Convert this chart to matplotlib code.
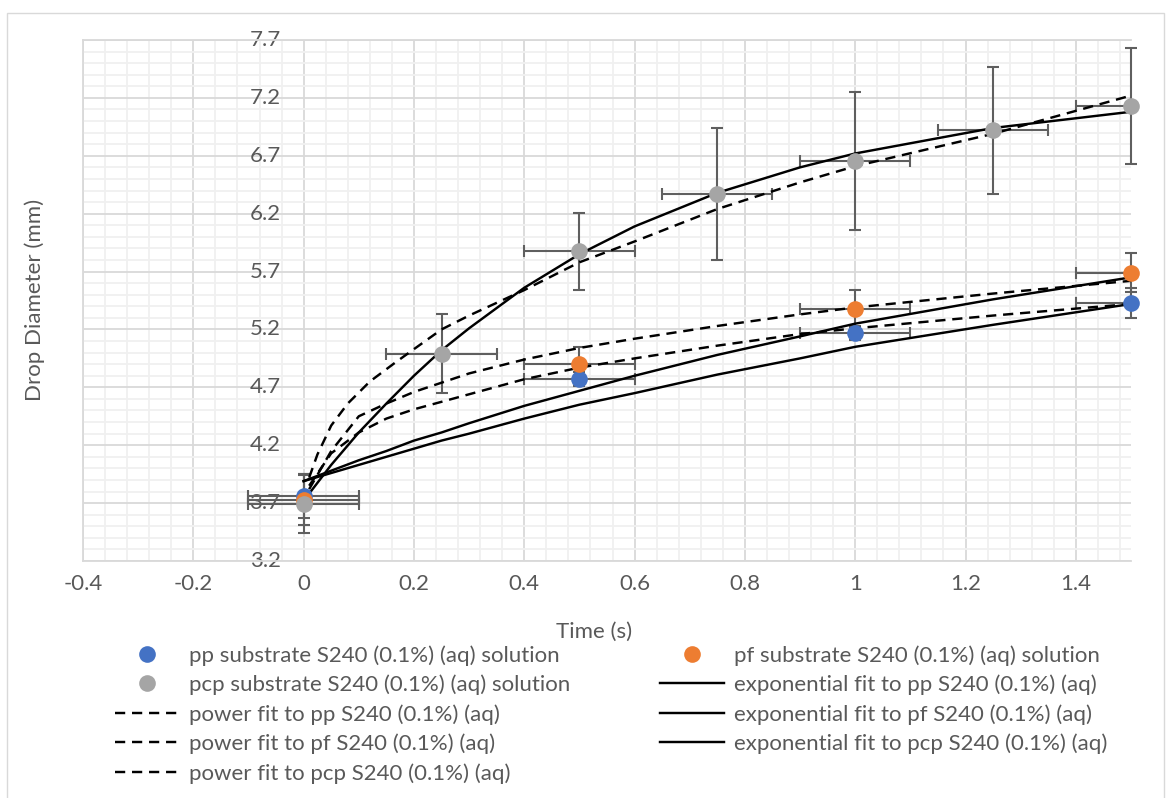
import matplotlib
matplotlib.use("Agg")
import matplotlib.pyplot as plt
from matplotlib.lines import Line2D
from matplotlib.patches import Rectangle
from matplotlib.ticker import FixedLocator, MultipleLocator

plt.rcParams['font.family'] = ['Lato', 'DejaVu Sans']

# ---- measured drop diameters (mm) ----
time_pp = [0.0, 0.5, 1.0, 1.5]
diam_pp = [3.76, 4.77, 5.17, 5.43]
yerr_pp = [0.19, 0.06, 0.06, 0.13]

time_pf = [0.0, 0.5, 1.0, 1.5]
diam_pf = [3.73, 4.90, 5.38, 5.69]
yerr_pf = [0.22, 0.15, 0.16, 0.17]

time_pcp = [0.0, 0.25, 0.5, 0.75, 1.0, 1.25, 1.5]
diam_pcp = [3.69, 4.99, 5.875, 6.37, 6.655, 6.92, 7.13]
yerr_pcp = [0.25, 0.34, 0.33, 0.57, 0.60, 0.55, 0.50]

time_err = 0.1  # timing uncertainty (s)

# ---- fitted curves ----
exp_t = [0.0, 0.05, 0.1, 0.15, 0.2, 0.25, 0.3, 0.4, 0.5, 0.6, 0.75, 0.9, 1.0, 1.25, 1.5]
exp_pp = [3.89, 3.96, 4.03, 4.10, 4.17, 4.24, 4.30, 4.43, 4.55, 4.65, 4.81, 4.95, 5.05, 5.24, 5.42]
exp_pf = [3.89, 3.98, 4.07, 4.15, 4.24, 4.31, 4.39, 4.54, 4.67, 4.80, 4.98, 5.14, 5.25, 5.46, 5.65]
exp_pcp = [3.72, 4.03, 4.31, 4.56, 4.80, 5.02, 5.21, 5.56, 5.85, 6.09, 6.38, 6.60, 6.72, 6.94, 7.08]

pow_t = [0.01, 0.05, 0.1, 0.15, 0.2, 0.3, 0.4, 0.5, 0.6, 0.75, 0.9, 1.0, 1.25, 1.5]
pow_pp = [3.85, 4.13, 4.31, 4.43, 4.51, 4.64, 4.77, 4.87, 4.95, 5.06, 5.16, 5.21, 5.32, 5.42]
pow_pf = [3.82, 4.15, 4.45, 4.56, 4.66, 4.82, 4.94, 5.04, 5.12, 5.23, 5.33, 5.39, 5.51, 5.62]

pow_pcp_t = [0.01, 0.025, 0.05, 0.08, 0.12, 0.165, 0.2, 0.25, 0.3, 0.4, 0.5, 0.6,
             0.75, 0.9, 1.0, 1.25, 1.5]
pow_pcp = [3.92, 4.12, 4.37, 4.56, 4.75, 4.91, 5.03, 5.20, 5.32, 5.54, 5.78, 5.96,
           6.24, 6.47, 6.61, 6.89, 7.22]

# ---- axis ticks ----
x_ticks = [-0.4, -0.2, 0.0, 0.2, 0.4, 0.6, 0.8, 1.0, 1.2, 1.4]
x_tick_labels = ['-0.4', '-0.2', '0', '0.2', '0.4', '0.6', '0.8', '1', '1.2', '1.4']
y_ticks = [3.2, 3.7, 4.2, 4.7, 5.2, 5.7, 6.2, 6.7, 7.2, 7.7]
y_tick_labels = ['3.2', '3.7', '4.2', '4.7', '5.2', '5.7', '6.2', '6.7', '7.2', '7.7']

labels_data = ['pp substrate S240 (0.1%) (aq) solution',
               'pf substrate S240 (0.1%) (aq) solution',
               'pcp substrate S240 (0.1%) (aq) solution']
labels_exp = ['exponential fit to pp S240 (0.1%) (aq)',
              'exponential fit to pf S240 (0.1%) (aq)',
              'exponential fit to pcp S240 (0.1%) (aq)']
labels_pow = ['power fit to pp S240 (0.1%) (aq)',
              'power fit to pf S240 (0.1%) (aq)',
              'power fit to pcp S240 (0.1%) (aq)']

# ---- style ----
TEXT = '#595959'
ERR = '#5f5f5f'
C_PP, C_PF, C_PCP = '#4472C4', '#ED7D31', '#A5A5A5'
FS = 16
DASH = (0, (4.2, 2.8))
LW_FIT = 1.75
MS = 12

W, H = 1171, 798
fig = plt.figure(figsize=(W / 100, H / 100), dpi=100)
fig.patch.set_facecolor('white')

# chart frame
fig.patches.append(Rectangle((7 / W, -0.01), (1164 - 7) / W, 1 - 13 / H + 0.01,
                             transform=fig.transFigure, fill=False,
                             edgecolor='#D9D9D9', linewidth=1.0))

ax = fig.add_axes([83 / W, 1 - 561 / H, (1131 - 83) / W, (561 - 40) / H])
ax.set_xlim(-0.4, 1.5)
ax.set_ylim(3.2, 7.7)

ax.xaxis.set_major_locator(FixedLocator(x_ticks))
ax.xaxis.set_minor_locator(MultipleLocator(0.04))
ax.yaxis.set_major_locator(FixedLocator(y_ticks))
ax.yaxis.set_minor_locator(MultipleLocator(0.1))
ax.set_xticklabels(x_tick_labels)
ax.set_yticklabels([])
ax.tick_params(which='both', length=0)
ax.tick_params(axis='x', pad=9, labelsize=FS, labelcolor=TEXT)
ax.grid(which='minor', color='#F0F0F0', linewidth=1.3)
ax.grid(which='major', color='#D9D9D9', linewidth=1.3)
ax.set_axisbelow(True)
for side in ('top', 'left', 'bottom'):
    ax.spines[side].set_color('#D9D9D9')
    ax.spines[side].set_linewidth(1.3)
ax.spines['right'].set_visible(False)

# value labels sit beside the vertical axis at x = 0
for v, lab in zip(y_ticks, y_tick_labels):
    ax.annotate(lab, xy=(0, v), xycoords='data', xytext=(-23, 0),
                textcoords='offset pixels', ha='right', va='center',
                fontsize=FS, color=TEXT, annotation_clip=False, zorder=1)


def error_bars(t, d, yerr):
    ye = ax.errorbar(t, d, yerr=yerr, fmt='none', ecolor=ERR, elinewidth=1.5,
                     capsize=4.5, capthick=1.5, zorder=2)
    for art in list(ye.lines[1]) + list(ye.lines[2]):
        art.set_clip_on(False)
    ax.errorbar(t, d, xerr=time_err, fmt='none', ecolor=ERR, elinewidth=1.5,
                capsize=4.5, capthick=1.5, zorder=2)


error_bars(time_pp, diam_pp, yerr_pp)
error_bars(time_pf, diam_pf, yerr_pf)
error_bars(time_pcp, diam_pcp, yerr_pcp)

# fitted curves
for t, y in ((exp_t, exp_pp), (exp_t, exp_pf), (exp_t, exp_pcp)):
    ax.plot(t, y, color='black', linewidth=LW_FIT, zorder=3)
for t, y in ((pow_t, pow_pp), (pow_t, pow_pf), (pow_pcp_t, pow_pcp)):
    ax.plot(t, y, color='black', linewidth=LW_FIT, linestyle=DASH, zorder=3)

# measured points
for t, d, c in ((time_pp, diam_pp, C_PP), (time_pf, diam_pf, C_PF),
                (time_pcp, diam_pcp, C_PCP)):
    ax.plot(t, d, 'o', ms=MS, color=c, mec='none', zorder=4, clip_on=False)

# axis titles
fig.text(594 / W, 1 - 632 / H, 'Time (s)', ha='center', va='center',
         fontsize=FS, color=TEXT)
fig.text(35 / W, 1 - 300 / H, 'Drop Diameter (mm)', ha='center', va='center',
         rotation=90, fontsize=FS, color=TEXT)


def dot(c):
    return Line2D([], [], marker='o', ms=MS, color=c, mec='none', linestyle='none')


def line(ls):
    return Line2D([], [], color='black', linewidth=LW_FIT, linestyle=ls)


left_handles = [dot(C_PP), dot(C_PCP), line(DASH), line(DASH), line(DASH)]
left_labels = [labels_data[0], labels_data[2], labels_pow[0], labels_pow[1], labels_pow[2]]
right_handles = [dot(C_PF), line('-'), line('-'), line('-')]
right_labels = [labels_data[1], labels_exp[0], labels_exp[1], labels_exp[2]]

common = dict(loc='upper left', bbox_transform=fig.transFigure, frameon=False,
              borderpad=0, borderaxespad=0, handlelength=2.9, handletextpad=0.45,
              labelspacing=0.4, fontsize=FS, labelcolor=TEXT)
fig.legend(left_handles, left_labels, bbox_to_anchor=(115 / W, 1 - 645 / H), **common)
fig.legend(right_handles, right_labels, bbox_to_anchor=(660 / W, 1 - 645 / H), **common)

fig.savefig('out.png', dpi=100, facecolor='white')
